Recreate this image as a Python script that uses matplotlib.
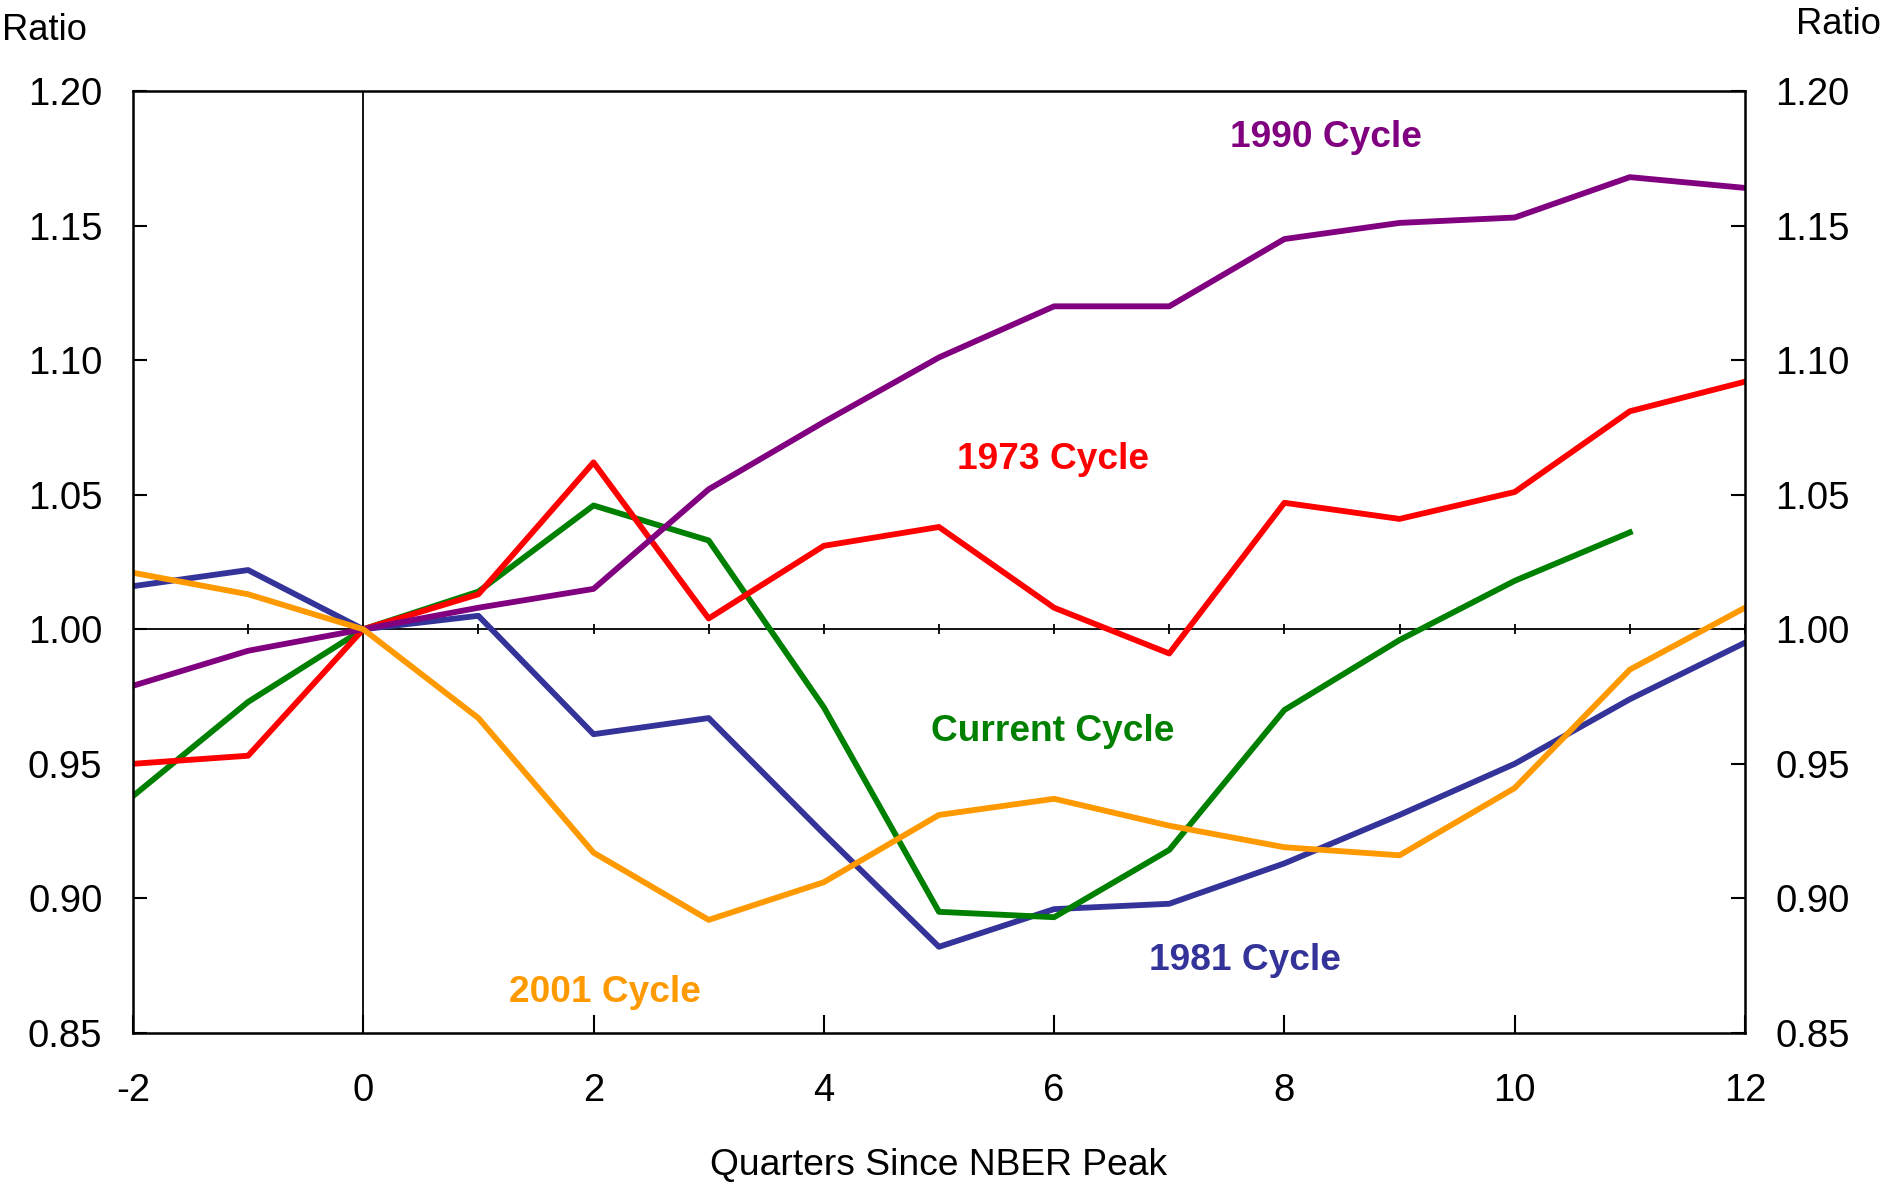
import numpy as np
import matplotlib.pyplot as plt

plt.rcParams['font.family'] = ['Liberation Sans', 'DejaVu Sans']

quarters = [-2, -1, 0, 1, 2, 3, 4, 5, 6, 7, 8, 9, 10, 11, 12]
cycle_1990 = [0.979, 0.992, 1.000, 1.008, 1.015, 1.052, 1.077, 1.101, 1.120, 1.120, 1.145, 1.151, 1.153, 1.168, 1.164]
cycle_1973 = [0.950, 0.953, 1.000, 1.013, 1.062, 1.004, 1.031, 1.038, 1.008, 0.991, 1.047, 1.041, 1.051, 1.081, 1.092]
cycle_current = [0.938, 0.973, 1.000, 1.014, 1.046, 1.033, 0.971, 0.895, 0.893, 0.918, 0.970, 0.996, 1.018, 1.036]
cycle_1981 = [1.016, 1.022, 1.000, 1.005, 0.961, 0.967, 0.924, 0.882, 0.896, 0.898, 0.913, 0.931, 0.950, 0.974, 0.995]
cycle_2001 = [1.021, 1.013, 1.000, 0.967, 0.917, 0.892, 0.906, 0.931, 0.937, 0.927, 0.919, 0.916, 0.941, 0.985, 1.008]

yticks = [0.85, 0.90, 0.95, 1.00, 1.05, 1.10, 1.15, 1.20]
xticks = [-2, 0, 2, 4, 6, 8, 10, 12]

fig = plt.figure(figsize=(18.83, 11.90), dpi=100)
ax = fig.add_axes([0.0706, 0.132, 0.8561, 0.7915])

lw = 4.2
ax.axvline(0, color='black', lw=1.3, zorder=1)
ax.plot(quarters, [1.0] * len(quarters), color='black', lw=1.3, marker='|', ms=7, mew=1.3, zorder=1)

ax.plot(quarters, cycle_1981, color='#333399', lw=lw)
ax.plot(quarters[:len(cycle_current)], cycle_current, color='#008000', lw=lw)
ax.plot(quarters, cycle_1973, color='#ff0000', lw=lw)
ax.plot(quarters, cycle_1990, color='#800080', lw=lw)
ax.plot(quarters, cycle_2001, color='#ff9900', lw=lw)

lab = dict(fontsize=26.7, fontweight='bold', ha='center', va='center')
ax.text(8.36, 1.1826, '1990 Cycle', color='#800080', **lab)
ax.text(5.99, 1.063, '1973 Cycle', color='#ff0000', **lab)
ax.text(5.99, 0.962, 'Current Cycle', color='#008000', **lab)
ax.text(7.66, 0.8768, '1981 Cycle', color='#333399', **lab)
ax.text(2.10, 0.865, '2001 Cycle', color='#ff9900', **lab)

ax.set_xlim(-2, 12)
ax.set_ylim(0.85, 1.20)
ax.set_xticks(xticks)
ax.set_xticklabels([str(t) for t in xticks])
ax.set_yticks(yticks)
ax.set_yticklabels(['%.2f' % t for t in yticks])
ax.tick_params(axis='x', direction='in', length=13, width=1.5, labelsize=27.5, pad=29)
ax.tick_params(axis='y', direction='in', length=10, width=1.5, labelsize=27.5, pad=22,
               left=True, right=True, labelleft=True, labelright=True)
for s in ax.spines.values():
    s.set_linewidth(1.8)

fig.text(0.5 * (0.0706 + 0.9267), 1 - 1165 / 1190, 'Quarters Since NBER Peak', fontsize=26.8, ha='center', va='center')
fig.text(0.001, 1 - 30 / 1190, 'Ratio', fontsize=26.2, ha='left', va='center')
fig.text(0.999, 1 - 24 / 1190, 'Ratio', fontsize=26.2, ha='right', va='center')

fig.savefig('out.png', dpi=100)
